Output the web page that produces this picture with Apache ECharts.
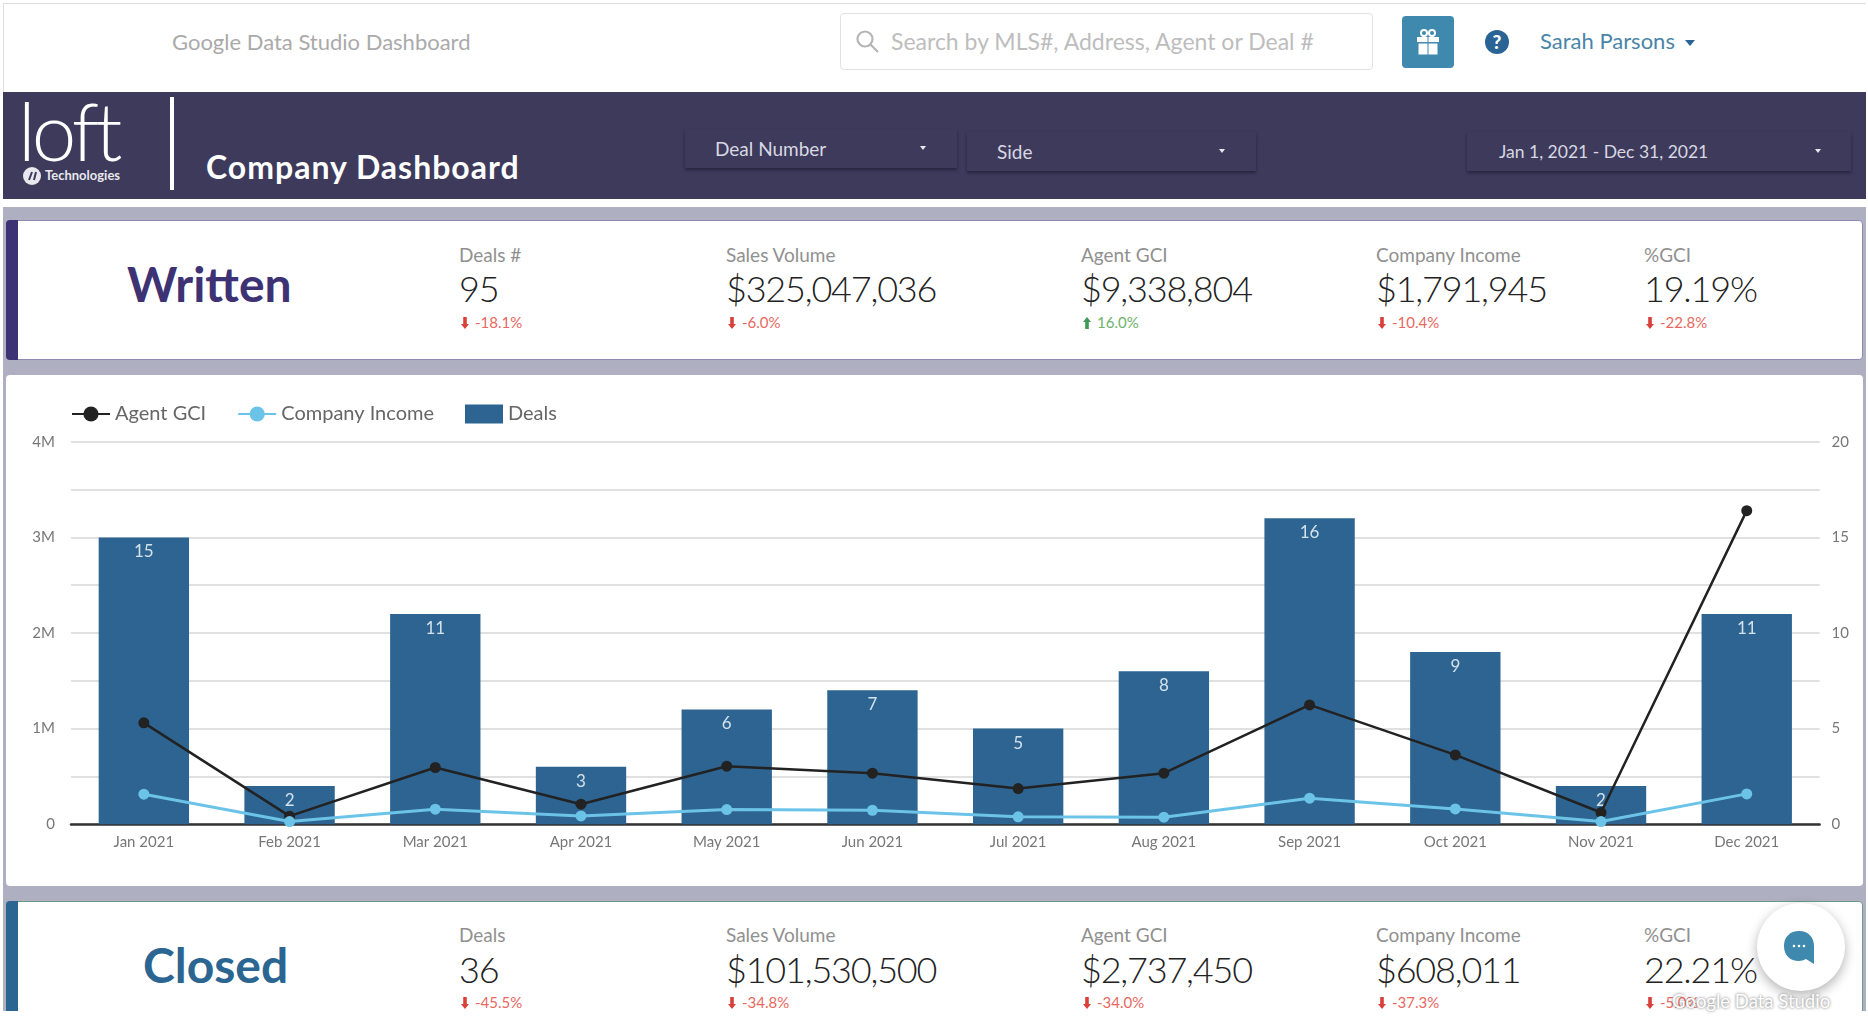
<!DOCTYPE html>
<html>
<head>
<meta charset="utf-8">
<title>Company Dashboard</title>
<script src="https://cdn.jsdelivr.net/npm/echarts@6/dist/echarts.min.js"></script>
<style>
    html, body { margin: 0; padding: 0; background: #fff; overflow: hidden; }
    body { width: 1868px; height: 1024px; position: relative; font-family: Lato, "Open Sans", sans-serif; }
    .abs { position: absolute; white-space: nowrap; }
    .mid { transform: translateY(-50%); }
    #topline { left: 3px; top: 3px; width: 1863px; height: 1px; background: #ddd; }
    #leftline { left: 3px; top: 3px; width: 1px; height: 89px; background: #ddd; }
    #search { left: 840px; top: 13px; width: 531px; height: 55px; border: 1px solid #e2e2e2; border-radius: 4px; }
    #gift { left: 1402px; top: 16px; width: 52px; height: 52px; border-radius: 4px; background: #3f88ae; }
    #header { left: 3px; top: 92px; width: 1863px; height: 107px; background: #3d3a5c; }
    #band { left: 3px; top: 207px; width: 1863px; height: 804px; background: #aeb0c2; }
    .drop { height: 39px; background: #3d3a5c; box-shadow: 0 2px 3px rgba(20, 18, 40, 0.55); }
    .card { background: #fff; border-radius: 4px; box-sizing: border-box; }
    #chart-card { left: 6px; top: 375px; width: 1857px; height: 511px; }
    #chart { width: 1857px; height: 511px; }
    .strip { width: 12px; border-radius: 4px 0 0 4px; }
    .kpi-label { font-size: 19px; color: #909090; }
    .kpi-value { font-size: 36px; font-weight: 300; color: #222; letter-spacing: -1.2px; }
    .kpi-delta { font-size: 15px; }
    #bubble { left: 1757px; top: 903px; width: 88px; height: 88px; border-radius: 50%; background: #fff; box-shadow: 0 4px 12px rgba(0, 0, 0, 0.3); }
</style>
</head>
<body>
<script>
// Données du graphique
const months = ['Jan 2021', 'Feb 2021', 'Mar 2021', 'Apr 2021', 'May 2021', 'Jun 2021', 'Jul 2021', 'Aug 2021', 'Sep 2021', 'Oct 2021', 'Nov 2021', 'Dec 2021'];
const deals = [15, 2, 11, 3, 6, 7, 5, 8, 16, 9, 2, 11];
const agentGci = [1060000, 84000, 593000, 209000, 607000, 534000, 373000, 534000, 1248000, 725000, 122000, 3280000];
const companyIncome = [314000, 28000, 157000, 87000, 153000, 146000, 77000, 73000, 272000, 160000, 28000, 317000];

// Indicateurs des deux bandeaux
const writtenLabels = ['Deals #', 'Sales Volume', 'Agent GCI', 'Company Income', '%GCI'];
const writtenValues = ['95', '$325,047,036', '$9,338,804', '$1,791,945', '19.19%'];
const writtenDeltas = ['-18.1%', '-6.0%', '16.0%', '-10.4%', '-22.8%'];
const closedLabels = ['Deals', 'Sales Volume', 'Agent GCI', 'Company Income', '%GCI'];
const closedValues = ['36', '$101,530,500', '$2,737,450', '$608,011', '22.21%'];
const closedDeltas = ['-45.5%', '-34.8%', '-34.0%', '-37.3%', '-5.0%'];

const kpiX = [459, 726, 1081, 1376, 1644];

function add(html) {
    document.body.insertAdjacentHTML('beforeend', html);
}

function text(x, y, str, style) {
    add(`<div class="abs mid" style="left:${x}px;top:${y}px;${style}">${str}</div>`);
}

// Barre du haut
add('<div class="abs" id="topline"></div><div class="abs" id="leftline"></div>');
text(172, 41, 'Google Data Studio Dashboard', 'font-size:22px;color:#aaa');
add('<div class="abs" id="search"></div>');
add(`<svg class="abs" style="left:855px;top:29px" width="24" height="24" viewBox="0 0 24 24" fill="none" stroke="#b5b5b5" stroke-width="2.2"><circle cx="10" cy="10" r="7.5"/><path d="M15.5 15.5 L23 23"/></svg>`);
text(891, 41, 'Search by MLS#, Address, Agent or Deal #', 'font-size:23px;color:#bdbdbd');
add(`<div class="abs" id="gift"><svg style="position:absolute;left:14px;top:13px" width="24" height="26" viewBox="0 0 24 26" fill="#fff"><rect x="1" y="8" width="10.5" height="5"/><rect x="12.5" y="8" width="10.5" height="5"/><rect x="2.5" y="14.5" width="9" height="11"/><rect x="12.5" y="14.5" width="9" height="11"/><g fill="none" stroke="#fff" stroke-width="2"><circle cx="8" cy="4" r="3"/><circle cx="16" cy="4" r="3"/></g></svg></div>`);
add(`<div class="abs" style="left:1485px;top:30px;width:24px;height:24px;border-radius:50%;background:#2a6494;color:#fff;font-size:19px;font-weight:900;line-height:24px;text-align:center">?</div>`);
text(1540, 40, 'Sarah Parsons', 'font-size:22px;color:#4a85a8');
add('<div class="abs" style="left:1685px;top:40px;border:5px solid transparent;border-top:6px solid #2a6494;border-bottom:0"></div>');

// Bandeau violet
add('<div class="abs" id="header"></div>');
text(18, 130, 'loft', 'font-size:80px;font-weight:300;color:#fff;letter-spacing:-4px');
add(`<svg class="abs" style="left:23px;top:167px" width="18" height="18" viewBox="0 0 18 18"><circle cx="9" cy="9" r="9" fill="#e8e8ee"/><path d="M6 13 L9 5 M11 13 L13 5" stroke="#3d3a5c" stroke-width="2"/></svg>`);
text(45, 175, 'Technologies', 'font-size:13px;font-weight:700;color:#e8e8ee');
add('<div class="abs" style="left:170px;top:97px;width:4px;height:93px;background:#fff"></div>');
text(206, 166, 'Company Dashboard', 'font-size:32px;font-weight:700;color:#fff;letter-spacing:1px');

function dropdown(left, top, width, label, textX, caretX, size) {
    add(`<div class="abs drop" style="left:${left}px;top:${top}px;width:${width}px"></div>`);
    text(textX, top + 19, label, `font-size:${size}px;color:#d8d8e2`);
    add(`<div class="abs" style="left:${caretX - 3}px;top:${top + 17}px;border:3px solid transparent;border-top:4px solid #e8e8ee;border-bottom:0"></div>`);
}
dropdown(685, 129, 272, 'Deal Number', 715, 923, 19);
dropdown(967, 132, 289, 'Side', 997, 1222, 19);
dropdown(1467, 132, 384, 'Jan 1, 2021 - Dec 31, 2021', 1499, 1818, 17.5);

// Fond et cartes
add('<div class="abs" id="band"></div>');

function kpiCard(top, height, title, titleX, titleY, color, border, labels, values, deltas, ys) {
    add(`<div class="abs card" style="left:6px;top:${top}px;width:1857px;height:${height}px;border:1px solid ${border}"></div>`);
    add(`<div class="abs strip" style="left:6px;top:${top}px;height:${height}px;background:${color}"></div>`);
    text(titleX, titleY, title, `font-size:48px;font-weight:700;color:${color}`);
    labels.forEach(function(label, i) {
        const x = kpiX[i];
        const up = deltas[i].charAt(0) !== '-';
        const c = up ? '#6db36d' : '#e8685f';
        const dark = up ? '#3f9a55' : '#d9403a';
        const arrow = up ? 'M4 0 L8 5 L5.8 5 L5.8 12 L2.2 12 L2.2 5 L0 5 Z' : 'M4 12 L8 7 L5.8 7 L5.8 0 L2.2 0 L2.2 7 L0 7 Z';
        text(x, ys[0], label, '');
        document.body.lastElementChild.classList.add('kpi-label');
        text(x, ys[1], values[i], '');
        document.body.lastElementChild.classList.add('kpi-value');
        add(`<svg class="abs" style="left:${x + 2}px;top:${ys[2] - 5}px" width="8" height="12" viewBox="0 0 8 12" fill="${dark}"><path d="${arrow}"/></svg>`);
        text(x + 16, ys[2], deltas[i], `color:${c}`);
        document.body.lastElementChild.classList.add('kpi-delta');
    });
}

kpiCard(220, 140, 'Written', 127, 283, '#3d3273', '#8f89b3', writtenLabels, writtenValues, writtenDeltas, [254, 288, 322]);
kpiCard(901, 120, 'Closed', 143, 964, '#2b6592', '#6d9a86', closedLabels, closedValues, closedDeltas, [934, 969, 1002]);

// Bas de page blanc sous la capture
add('<div class="abs" style="left:0;top:1011px;width:1868px;height:13px;background:#fff"></div>');

// Carte du graphique
add('<div class="abs card" id="chart-card"><div id="chart"></div></div>');

// Bulle de discussion et filigrane
add('<div class="abs" id="bubble"></div>');
add(`<svg class="abs" style="left:1783px;top:930px" width="32" height="36" viewBox="0 0 32 36"><path d="M16 1 C25 1 31 7 31 16 L31 34 L23 29 C21 30 18 31 16 31 C7 31 1 25 1 16 C1 7 7 1 16 1 Z" fill="#3f88ae"/><g fill="#fff"><circle cx="11" cy="16" r="1.3"/><circle cx="16" cy="16" r="1.3"/><circle cx="21" cy="16" r="1.3"/></g></svg>`);
text(1672, 1001, 'Google Data Studio', 'font-size:18.5px;color:#fff;text-shadow:0 0 3px #666');

// Graphique ECharts
const myChart = echarts.init(document.getElementById('chart'));
const axisText = { color: '#777', fontSize: 15, fontFamily: 'Lato' };

myChart.setOption({
    animation: false,
    textStyle: { fontFamily: 'Lato' },
    legend: {
        left: 60,
        top: 24,
        itemWidth: 38,
        itemHeight: 19,
        itemGap: 31,
        data: ['Agent GCI', 'Company Income', { name: 'Deals', icon: 'rect' }],
        textStyle: { color: '#666', fontSize: 20, fontFamily: 'Lato' }
    },
    grid: { left: 65, right: 43.4, top: 66.8, height: 382.4 },
    xAxis: {
        type: 'category',
        data: months,
        axisTick: { show: false },
        axisLine: { lineStyle: { color: '#333', width: 2.5 } },
        axisLabel: Object.assign({ margin: 10 }, axisText)
    },
    yAxis: [
        {
            type: 'value',
            min: 0,
            max: 4000000,
            interval: 500000,
            axisLabel: Object.assign({
                margin: 16,
                padding: [2, 0, 0, 0],
                formatter: function(v) {
                    if (v === 0) return '0';
                    return v % 1000000 === 0 ? (v / 1000000) + 'M' : '';
                }
            }, axisText),
            axisLine: { show: false },
            axisTick: { show: false },
            splitLine: { lineStyle: { color: '#e0e0e0', width: 2 } }
        },
        {
            type: 'value',
            min: 0,
            max: 20,
            interval: 5,
            position: 'right',
            axisLabel: Object.assign({ margin: 12, padding: [2, 0, 0, 0] }, axisText),
            axisLine: { show: false },
            axisTick: { show: false },
            splitLine: { show: false }
        }
    ],
    series: [
        {
            name: 'Deals',
            type: 'bar',
            yAxisIndex: 1,
            data: deals,
            barWidth: '62%',
            itemStyle: { color: '#2d6491' },
            label: { show: true, position: 'insideTop', distance: 6, color: '#d4e2ec', fontSize: 17, fontFamily: 'Lato' },
            z: 2
        },
        {
            name: 'Agent GCI',
            type: 'line',
            data: agentGci,
            symbol: 'circle',
            symbolSize: 11,
            itemStyle: { color: '#222' },
            lineStyle: { color: '#222', width: 2.5 },
            z: 3
        },
        {
            name: 'Company Income',
            type: 'line',
            data: companyIncome,
            symbol: 'circle',
            symbolSize: 11,
            itemStyle: { color: '#6cc3e8' },
            lineStyle: { color: '#6cc3e8', width: 3 },
            z: 4
        }
    ]
});
</script>
</body>
</html>
